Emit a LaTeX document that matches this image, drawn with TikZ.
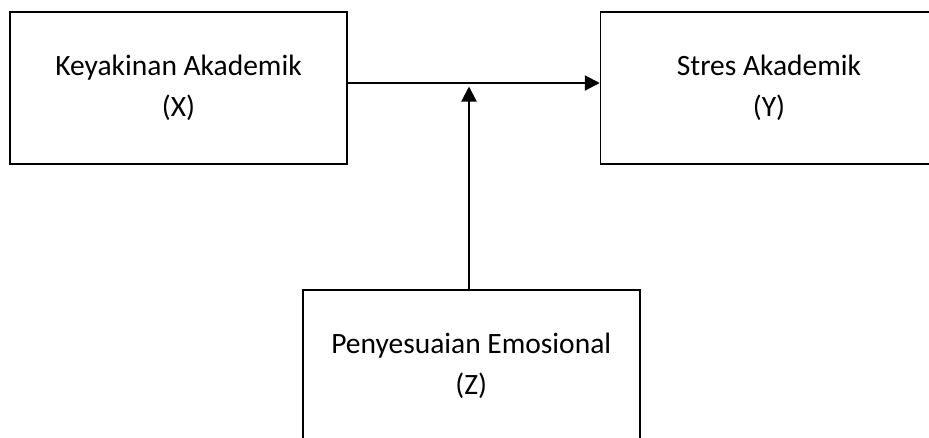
\documentclass[tikz,border=0pt]{standalone}
\usepackage{fontspec}
\setmainfont{Carlito}
\usepackage{tikz}
\usetikzlibrary{arrows.meta,positioning,calc}
\definecolor{ink}{RGB}{0,0,0}
\tikzset{
  var/.style={draw=ink,line width=1.5pt,fill=white,minimum width=337pt,minimum height=152pt,
    inner sep=0pt,align=center,font=\fontsize{29.5}{41}\selectfont},
  arr/.style={-{Triangle[length=15pt,width=15pt]},line width=2pt,ink},
}
\begin{document}
\begin{tikzpicture}[x=1pt,y=-1pt,node distance=4mm and 252pt]
  \clip (0,0) rectangle (929,437);
  \fill[white] (0,0) rectangle (929,437);
  \node[var] (kya) at (178.5,88) {Keyakinan Akademik\\(X)};
  \node[var,right=of kya] (str) {Stres Akademik\\(Y)};
  \node[var,anchor=north west] (emo) at (302,289) {Penyesuaian Emosional\\(Z)};
  % jalur utama dan moderator
  \coordinate (mid) at ($(kya.east)!0.485!(str.west)+(0,-5)$);
  \draw[arr] (kya.east|-mid) -- (str.west|-mid);
  \draw[arr] (emo.north-|469,0) -- ($(469,0)!(mid)!(469,437)+(0,3.5)$);
\end{tikzpicture}
\end{document}
